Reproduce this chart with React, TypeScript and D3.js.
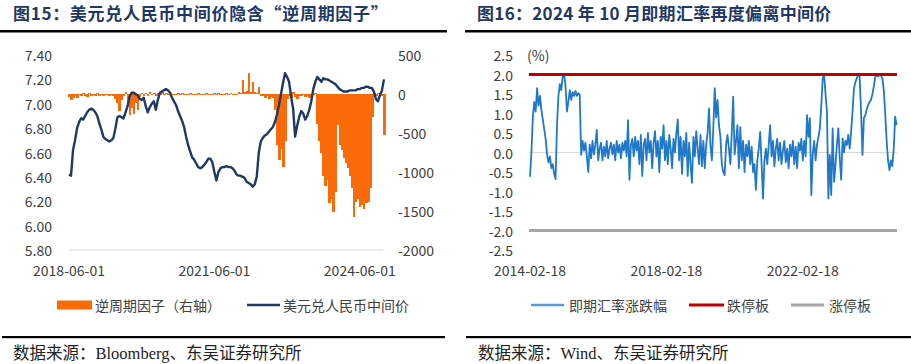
import React from "react";
import * as d3 from "d3";

// ---- data: left chart (half-month steps from 2018-06-01) ----
const midStart = "2018-06-01";
const mid2018 = [6.42, 6.41, 6.62, 6.70, 6.80, 6.85, 6.88, 6.87, 6.90, 6.93, 6.95, 6.96, 6.95, 6.93, 6.90, 6.84, 6.79, 6.73, 6.71, 6.70, 6.69, 6.70, 6.72, 6.80];
const mid2019 = [6.89, 6.90, 6.89, 6.88, 6.93, 6.98, 7.06, 7.09, 7.09, 7.08, 7.07, 7.04, 7.03, 7.05, 6.98, 6.93, 6.97, 7.00, 7.02, 6.95, 7.03, 7.09, 7.10, 7.11];
const mid2020 = [7.12, 7.11, 7.09, 7.05, 7.02, 6.99, 6.94, 6.90, 6.86, 6.81, 6.73, 6.66, 6.61, 6.56, 6.54, 6.51, 6.48, 6.47, 6.48, 6.50, 6.52, 6.55, 6.55, 6.52];
const mid2021 = [6.44, 6.37, 6.44, 6.47, 6.48, 6.48, 6.49, 6.48, 6.48, 6.47, 6.45, 6.42, 6.41, 6.41, 6.40, 6.39, 6.36, 6.35, 6.34, 6.32, 6.34, 6.40, 6.60, 6.69];
const mid2022 = [6.72, 6.74, 6.75, 6.77, 6.79, 6.81, 6.85, 6.91, 6.99, 7.08, 7.17, 7.25, 7.22, 7.18, 7.06, 6.96, 6.73, 6.82, 6.89, 6.94, 6.92, 6.87, 6.90, 6.95];
const mid2023 = [7.02, 7.12, 7.18, 7.22, 7.20, 7.18, 7.21, 7.20, 7.20, 7.19, 7.18, 7.17, 7.16, 7.14, 7.12, 7.11, 7.10, 7.10, 7.10, 7.11, 7.11, 7.11, 7.11, 7.12];
const mid2024 = [7.12, 7.13, 7.13, 7.14, 7.14, 7.13, 7.13, 7.10, 7.04, 7.02, 7.07, 7.11, 7.20];

const fac2018 = [-40, -80, -55, -25, -50, -15, -30, 10, -20, -35, 15, -20, -10, -30, 10, -20, -15, -25, -10, 5, -20, -10, -30, -60];
const fac2019 = [-120, -220, -80, -30, 20, -150, -270, -180, -260, -120, -200, -40, 10, -20, 15, -30, 20, -10, 10, -25, 15, -10, 20, -15];
const fac2020 = [10, -5, 15, -10, 5, -15, 10, -5, 8, -10, 5, -8, 10, -5, 5, -10, 8, -5, 5, -8, 10, -5, 5, -10];
const fac2021 = [8, -5, 10, -5, 5, -10, 8, -5, 12, -8, 5, -10, 30, 15, 180, 20, 40, 270, 30, 150, 20, 10, 90, -20];
const fac2022 = [-30, -45, -20, -60, -35, -50, -200, -650, -850, -700, -940, -600, -60, -30, -50, 20, -40, -60, -20, -30, -10, -40, -20, -50];
const fac2023 = [-30, -10, 10, -380, -600, -750, -1050, -1180, -1100, -1400, -1350, -1510, -1250, -400, -650, -720, -820, -880, -950, -1050, -1200, -1580, -1380, -1350];
const fac2024 = [-1450, -1420, -1480, -1400, -1380, -1200, -300, 10, -20, 15, -10, -30, -520];

const leftTicks = [5.8, 6.0, 6.2, 6.4, 6.6, 6.8, 7.0, 7.2, 7.4];
const rightTicks = [-2000, -1500, -1000, -500, 0, 500];
const leftDates = ["2018-06-01", "2021-06-01", "2024-06-01"];

// ---- data: right chart (half-month steps from 2014-02-18) ----
const devStart = "2014-02-18";
const dev2014 = [-0.62, 0.0, 0.9, 1.3, 1.05, 1.65, 1.2, 1.45, 1.1, 0.85, 0.6, 0.35, -0.05, -0.25, -0.1, -0.4, -0.3, -0.55, -0.68, 0.7, 1.45, 1.75, 1.6, 1.95];
const dev2015 = [2.0, 1.7, 1.05, 1.3, 1.6, 1.35, 1.55, 1.45, 1.58, 1.45, 1.52, 1.48, -0.06, 0.3, 0.05, 0.25, -0.1, -0.5, 0.2, -0.15, 0.3, -0.05, 0.2, 0.58];
const dev2016 = [-0.2, 0.1, 0.25, -0.2, 0.15, -0.1, 0.3, -0.15, 0.1, 0.25, -0.05, 0.2, -0.2, 0.3, 0.0, 0.2, -0.15, 0.25, 0.05, 0.3, -0.1, 0.83, -0.7, 0.2];
const dev2017 = [0.35, -0.1, 0.4, 0.05, 0.3, -0.3, 0.45, -0.6, 0.2, 0.35, -0.2, 0.5, 0.0, 0.3, -0.4, 0.25, 0.55, -0.1, 0.3, -0.5, 0.4, 0.1, 0.7, -0.2];
const dev2018 = [0.3, -0.3, 0.45, 0.1, -0.4, 0.35, 0.0, 0.5, 0.85, -0.2, 0.4, -0.55, 0.3, -0.1, 0.5, -0.6, 0.25, -0.3, -0.78, 0.4, -0.1, 0.55, 0.1, -0.3];
const dev2019 = [0.45, -0.35, 0.3, -0.4, 0.2, 0.5, 1.13, 0.2, -0.2, 0.6, 1.65, 0.9, 1.35, 0.7, 0.4, -0.3, -0.5, -0.58, 0.2, 0.45, 0.1, -0.3, 0.5, 1.43];
const dev2020 = [-0.05, 0.3, 0.7, -0.4, 0.65, -0.2, 0.3, -0.5, 0.2, -0.1, 0.3, -0.3, 0.15, -0.5, -0.3, -0.96, -0.2, 0.1, 0.53, -0.3, -1.18, -0.2, 0.1, -0.3];
const dev2021 = [0.2, 0.7, -0.1, 0.3, -0.35, 0.1, 0.35, -0.2, 0.25, -0.3, 0.05, 0.3, -0.25, 0.1, -0.4, 0.2, -0.1, 0.3, -0.3, 0.15, -0.4, 0.25, 0.05, 0.35];
const dev2022 = [-0.2, 0.3, -0.1, 0.96, 0.4, 0.88, -1.09, -0.05, 0.3, -0.2, 0.2, 0.4, 0.62, 1.2, 1.9, 1.99, 1.5, 1.05, -1.18, -0.06, -1.09, 0.62, -0.75, -0.32];
const dev2023 = [0.2, 0.62, -0.15, -0.7, 0.36, 0.0, 0.3, 0.19, 0.45, 0.1, 0.53, 1.05, 1.65, 1.8, 1.9, 2.0, 1.95, 1.05, -0.06, 0.88, 0.96, 1.1, 1.22, 1.3];
const dev2024 = [1.35, 1.5, 1.7, 1.94, 2.0, 1.95, 2.0, 1.97, 1.9, 1.6, 1.0, 0.3, -0.2, -0.45, -0.2, -0.35, 0.1, 0.92, 0.7];

const devTicks = [-2.5, -2.0, -1.5, -1.0, -0.5, 0.0, 0.5, 1.0, 1.5, 2.0, 2.5];
const devDates = ["2014-02-18", "2018-02-18", "2022-02-18"];
const limitDown = 2.0;
const limitUp = -2.0;

const SANS = '"Noto Sans CJK SC", "Noto Sans", sans-serif';
const SERIF = '"Liberation Serif", "Noto Sans CJK SC", serif';
const TXT = "#404040";
const TITLE = "#1F3864";
const ORANGE = "#FA6A08";

const DAY = 86400000;
const HALF = (365.25 / 24) * DAY;
const parse = d3.utcParse("%Y-%m-%d");
const fmt = d3.utcFormat("%Y-%m-%d");

function halfMonthDates(start: string, n: number) {
  const t0 = parse(start)!.getTime();
  return d3.range(n).map((i) => new Date(t0 + i * HALF));
}

function LeftChart() {
  const mid = [...mid2018, ...mid2019, ...mid2020, ...mid2021, ...mid2022, ...mid2023, ...mid2024];
  const fac = [...fac2018, ...fac2019, ...fac2020, ...fac2021, ...fac2022, ...fac2023, ...fac2024];
  const dates = halfMonthDates(midStart, mid.length);

  const x = d3.scaleUtc().domain([parse("2018-06-01")!, parse("2024-06-01")!]).range([69, 359.8]);
  const yL = d3.scaleLinear().domain([5.8, 7.4]).range([250, 55]);
  const yR = d3.scaleLinear().domain([-2000, 500]).range([250, 55]);
  const step = x(dates[1]) - x(dates[0]);

  const line = d3
    .line<number>()
    .x((_, i) => x(dates[i]))
    .y((d) => yL(d));

  return (
    <g>
      <text x={13} y={20} fontFamily={SANS} fontWeight={700} fontSize={17} fill={TITLE} letterSpacing={0.7}>
        图15：美元兑人民币中间价隐含“逆周期因子”
      </text>
      <rect x={0} y={30} width={447} height={2.5} fill="#000" />

      {leftTicks.map((t) => (
        <text key={t} x={52} y={yL(t)} textAnchor="end" dominantBaseline="central" fontFamily={SANS} fontSize={14} fill={TXT}>
          {t.toFixed(2)}
        </text>
      ))}
      {rightTicks.map((t) => (
        <text key={t} x={398} y={yR(t)} dominantBaseline="central" fontFamily={SANS} fontSize={14} fill={TXT}>
          {t}
        </text>
      ))}
      {leftDates.map((d) => (
        <text key={d} x={x(parse(d)!)} y={270} textAnchor="middle" dominantBaseline="central" fontFamily={SANS} fontSize={14} fill={TXT}>
          {fmt(parse(d)!)}
        </text>
      ))}

      <line x1={69} x2={383} y1={yL(5.8)} y2={yL(5.8)} stroke="#d9d9d9" strokeWidth={1} />

      <g shapeRendering="crispEdges">
        {fac.map((v, i) => {
          const cx = x(dates[i]);
          const y0 = yR(0);
          const y1 = yR(v);
          return (
            <rect key={i} x={cx - step / 2} width={step + 0.7} y={Math.min(y0, y1)} height={Math.max(1, Math.abs(y1 - y0))} fill={ORANGE} />
          );
        })}
      </g>

      <path d={line(mid) || ""} fill="none" stroke="#1F3864" strokeWidth={2.4} strokeLinejoin="round" />

      <rect x={57} y={300.5} width={35} height={9} fill={ORANGE} />
      <text x={95} y={305} dominantBaseline="central" fontFamily={SANS} fontSize={14} fill={TXT}>
        逆周期因子（右轴）
      </text>
      <line x1={247} x2={280} y1={305} y2={305} stroke="#1F3864" strokeWidth={2.5} />
      <text x={283} y={305} dominantBaseline="central" fontFamily={SANS} fontSize={14} fill={TXT}>
        美元兑人民币中间价
      </text>

      <rect x={2} y={336} width={443} height={2.2} fill="#000" />
      <text x={13} y={359} fontFamily={SERIF} fontSize={16.5} fill="#222">
        数据来源：Bloomberg、东吴证券研究所
      </text>
    </g>
  );
}

function RightChart() {
  const dev = [...dev2014, ...dev2015, ...dev2016, ...dev2017, ...dev2018, ...dev2019, ...dev2020, ...dev2021, ...dev2022, ...dev2023, ...dev2024];
  const dates = halfMonthDates(devStart, dev.length);

  const x = d3.scaleUtc().domain([parse("2014-02-18")!, parse("2022-02-18")!]).range([530, 802.8]);
  const y = d3.scaleLinear().domain([-2.5, 2.5]).range([250, 55]);
  const x0 = 529;
  const x1 = 897;

  const line = d3
    .line<number>()
    .x((_, i) => x(dates[i]))
    .y((d) => y(d));

  return (
    <g>
      <text x={477} y={20} fontFamily={SANS} fontWeight={700} fontSize={17} fill={TITLE} letterSpacing={0.3}>
        图16：2024 年 10 月即期汇率再度偏离中间价
      </text>
      <rect x={465} y={30} width={446} height={2.5} fill="#000" />

      {devTicks.map((t) => (
        <text key={t} x={513} y={y(t)} textAnchor="end" dominantBaseline="central" fontFamily={SANS} fontSize={14} fill={TXT}>
          {t.toFixed(1)}
        </text>
      ))}
      <text x={527} y={y(2.5)} dominantBaseline="central" fontFamily={SANS} fontSize={14} fill={TXT}>
        (%)
      </text>
      {devDates.map((d) => (
        <text key={d} x={x(parse(d)!)} y={270} textAnchor="middle" dominantBaseline="central" fontFamily={SANS} fontSize={14} fill={TXT}>
          {fmt(parse(d)!)}
        </text>
      ))}

      <line x1={x0} x2={x1} y1={y(0)} y2={y(0)} stroke="#d9d9d9" strokeWidth={1} />
      <line x1={x0} x2={x1} y1={y(limitUp)} y2={y(limitUp)} stroke="#A6A6A6" strokeWidth={3} />
      <path d={line(dev) || ""} fill="none" stroke="#1F78C8" strokeWidth={1.8} strokeLinejoin="round" />
      <line x1={x0} x2={x1} y1={y(limitDown)} y2={y(limitDown)} stroke="#C00000" strokeWidth={3} />

      <line x1={531} x2={564} y1={305} y2={305} stroke="#5B9BD5" strokeWidth={2.5} />
      <text x={569} y={305} dominantBaseline="central" fontFamily={SANS} fontSize={14} fill={TXT}>
        即期汇率涨跌幅
      </text>
      <line x1={689} x2={724} y1={305} y2={305} stroke="#C00000" strokeWidth={3} />
      <text x={727} y={305} dominantBaseline="central" fontFamily={SANS} fontSize={14} fill={TXT}>
        跌停板
      </text>
      <line x1={791} x2={824} y1={305} y2={305} stroke="#A6A6A6" strokeWidth={3} />
      <text x={829} y={305} dominantBaseline="central" fontFamily={SANS} fontSize={14} fill={TXT}>
        涨停板
      </text>

      <rect x={466} y={336} width={445} height={2.2} fill="#000" />
      <text x={478} y={359} fontFamily={SERIF} fontSize={16.5} fill="#222">
        数据来源：Wind、东吴证券研究所
      </text>
    </g>
  );
}

export default function App() {
  return (
    <svg
      width={911}
      height={364}
      style={{ position: "absolute", left: 0, top: 0, background: "#fff" }}
    >
      <rect width={911} height={364} fill="#fff" />
      <LeftChart />
      <RightChart />
    </svg>
  );
}
